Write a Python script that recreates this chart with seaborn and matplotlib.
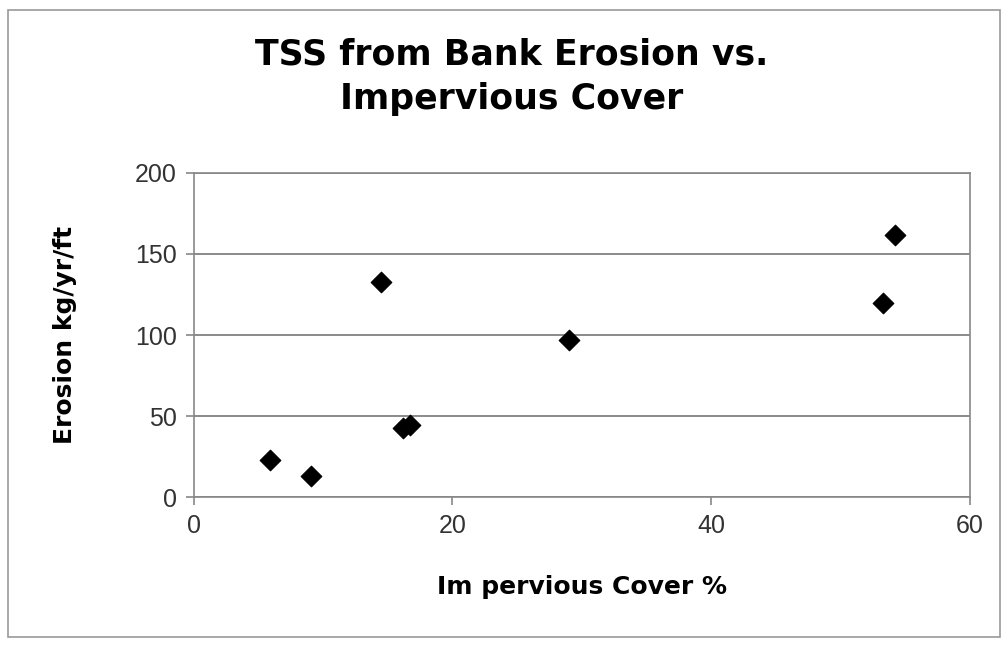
import numpy as np
import pandas as pd
import matplotlib
matplotlib.use("Agg")
import matplotlib.pyplot as plt
import seaborn as sns
from matplotlib.patches import Rectangle

# values
impervious = [5.9, 9.1, 14.5, 16.2, 16.7, 29.0, 53.3, 54.2]
erosion = [22.8, 13.0, 132.7, 42.6, 44.4, 97.0, 120.0, 161.7]
x_ticks = [0, 20, 40, 60]
y_ticks = [0, 50, 100, 150, 200]

df = pd.DataFrame({"Impervious Cover %": impervious, "Erosion kg/yr/ft": erosion})

sns.set_style("white")
plt.rcParams['font.family'] = ['Liberation Sans', 'DejaVu Sans']
plt.rcParams['text.color'] = 'black'

fig = plt.figure(figsize=(10.08, 6.5), dpi=100)
ax = fig.add_axes([0.192, 0.235, 0.770, 0.499])

sns.scatterplot(data=df, x="Impervious Cover %", y="Erosion kg/yr/ft", marker="D",
                s=110, color="black", edgecolor="black", ax=ax, zorder=3)

ax.set_xlim(0, 60)
ax.set_ylim(0, 200)
ax.set_xticks(x_ticks)
ax.set_yticks(y_ticks)
ax.yaxis.grid(True, color="#777777", linewidth=1.2)
ax.xaxis.grid(False)
for s in ax.spines.values():
    s.set_color("#888888")
    s.set_linewidth(1.2)
ax.tick_params(axis="both", which="both", length=6, width=1.2, color="#888888",
               labelsize=18, labelcolor="#333333", direction="out",
               bottom=True, left=True, pad=6)

bold = dict(family=["DejaVu Sans"], fontweight="bold", color="black")
ax.set_xlabel("Im pervious Cover %", fontsize=18, labelpad=27, **bold)
ax.set_ylabel("Erosion kg/yr/ft", fontsize=18, labelpad=42, **bold)

fig.text(0.508, 0.882, "TSS from Bank Erosion vs.\nImpervious Cover", ha="center",
         va="center", fontsize=25, linespacing=1.4, **bold)

# outer chart frame
fig.patches.append(Rectangle((0.008, 0.02), 0.984, 0.965, transform=fig.transFigure,
                             fill=False, edgecolor="#999999", linewidth=1.2))

fig.savefig("out.png", dpi=100)
